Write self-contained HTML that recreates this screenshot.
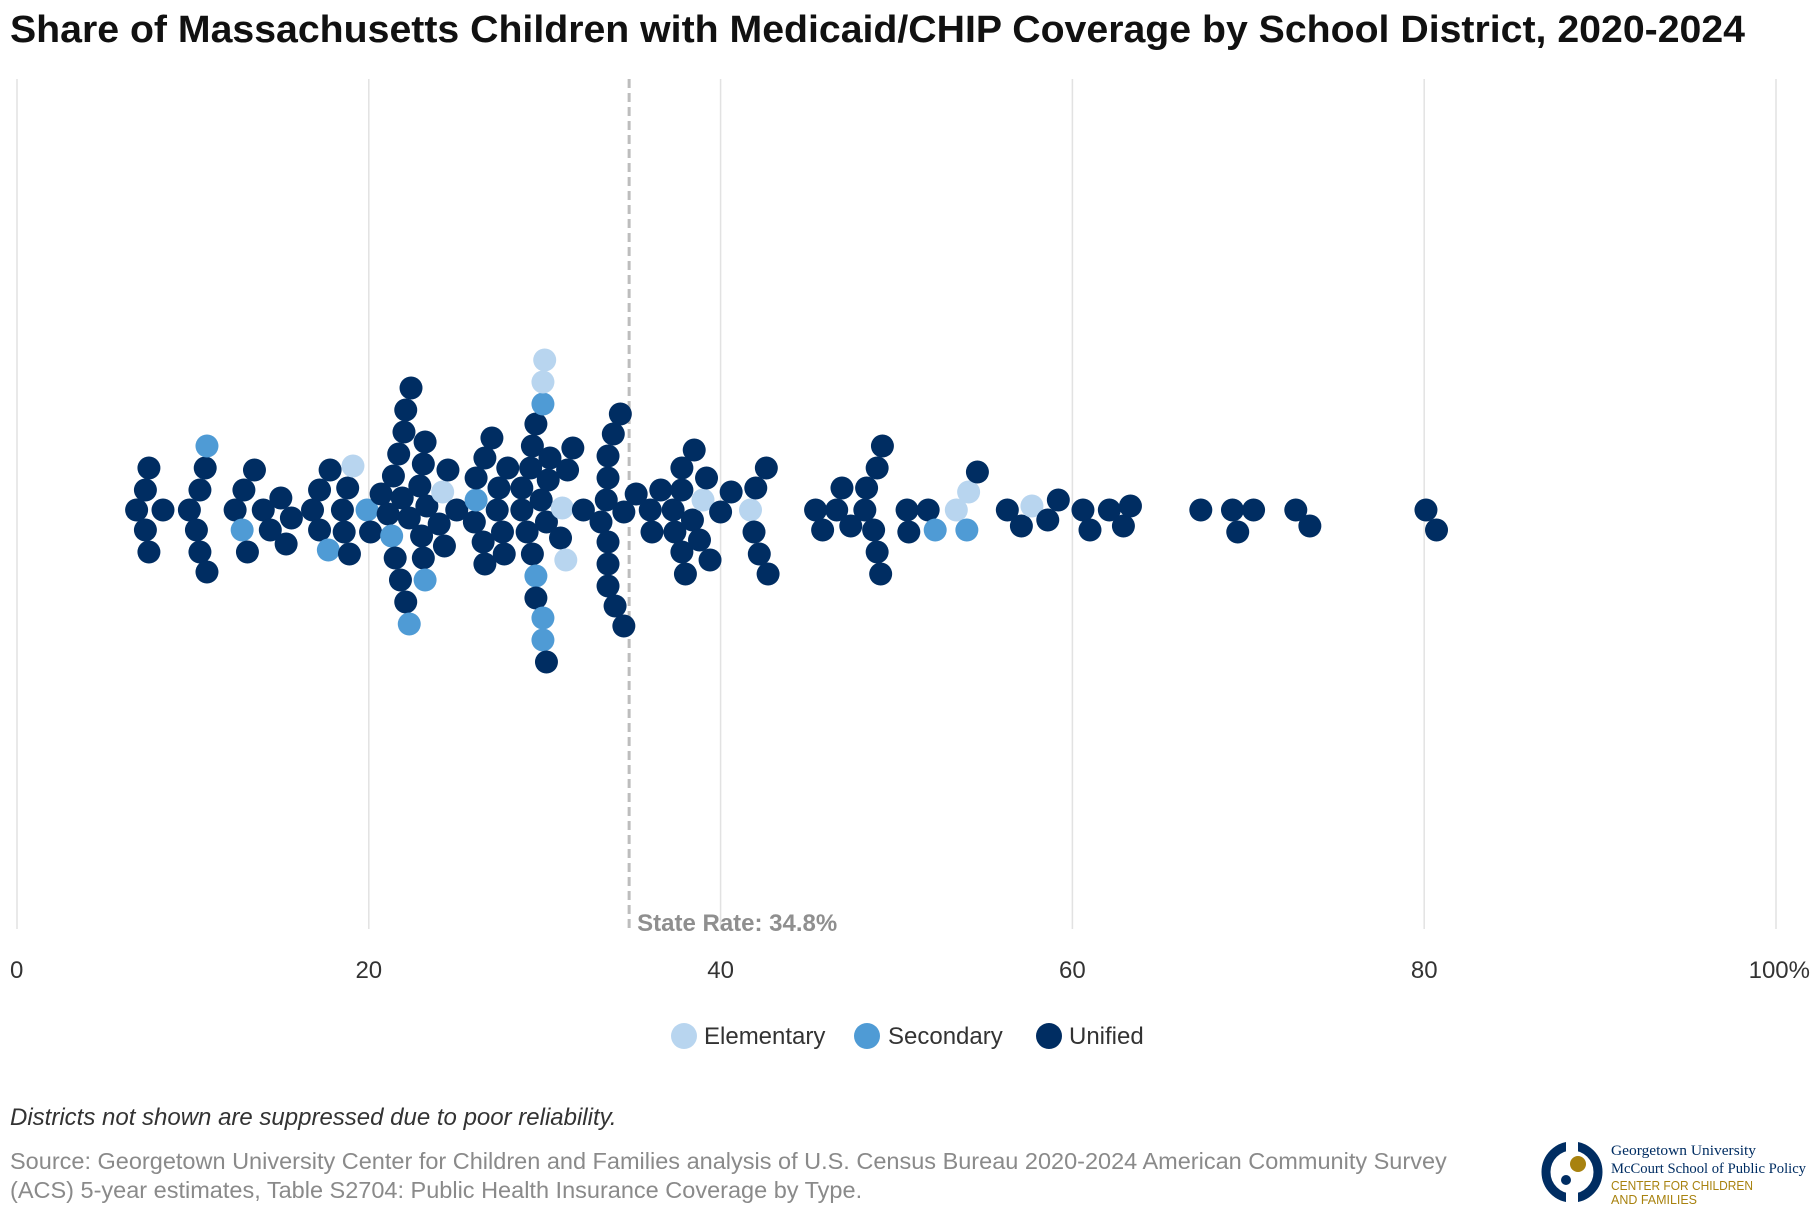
<!DOCTYPE html>
<html><head><meta charset="utf-8"><style>
body{margin:0;background:#fff;width:1820px;height:1220px;overflow:hidden;font-family:"Liberation Sans",sans-serif}
</style></head><body>
<svg width="1820" height="1220" xmlns="http://www.w3.org/2000/svg">
<text x="10" y="42" font-size="38" font-weight="bold" fill="#111" textLength="1735" lengthAdjust="spacingAndGlyphs">Share of Massachusetts Children with Medicaid/CHIP Coverage by School District, 2020-2024</text>
<g id="grid"></g>
<g id="dots"></g>
<g id="ticks"></g>
<g font-size="24" fill="#333">
<circle cx="684" cy="1036" r="13" fill="#b8d5ef"/>
<text x="704" y="1044">Elementary</text>
<circle cx="867" cy="1036" r="13" fill="#4f9bd5"/>
<text x="888" y="1044">Secondary</text>
<circle cx="1049" cy="1036" r="13" fill="#002d62"/>
<text x="1069" y="1044">Unified</text>
</g>
<text x="10" y="1125" font-size="24" font-style="italic" fill="#333">Districts not shown are suppressed due to poor reliability.</text>
<text x="10" y="1169" font-size="23.5" fill="#8a8a8a">Source: Georgetown University Center for Children and Families analysis of U.S. Census Bureau 2020-2024 American Community Survey</text>
<text x="10" y="1198" font-size="23.5" fill="#8a8a8a">(ACS) 5-year estimates, Table S2704: Public Health Insurance Coverage by Type.</text>
<g>
<circle cx="1572" cy="1172" r="26" fill="none" stroke="#002d62" stroke-width="9"/>
<rect x="1566" y="1140" width="12" height="64" fill="#fff"/>
<circle cx="1578" cy="1164" r="8" fill="#a8820f"/>
<circle cx="1566" cy="1180" r="5" fill="#002d62"/>
<text x="1611" y="1155" font-family="Liberation Serif,serif" font-size="15" fill="#002d62" textLength="145" lengthAdjust="spacingAndGlyphs">Georgetown University</text>
<text x="1611" y="1173" font-family="Liberation Serif,serif" font-size="15" fill="#002d62" textLength="195" lengthAdjust="spacingAndGlyphs">McCourt School of Public Policy</text>
<text x="1611" y="1190" font-size="13" fill="#a8820f" textLength="142" lengthAdjust="spacingAndGlyphs">CENTER FOR CHILDREN</text>
<text x="1611" y="1204" font-size="13" fill="#a8820f" textLength="86" lengthAdjust="spacingAndGlyphs">AND FAMILIES</text>
</g>
</svg>
<script>
const values=[6.8,7.3,7.3,7.5,7.5,8.3,9.8,10.2,10.4,10.4,10.7,10.8,10.8,12.4,12.8,12.9,13.1,13.5,14.0,14.4,15.0,15.3,15.6,16.8,17.2,17.2,17.7,17.8,18.5,18.6,18.8,18.9,19.1,19.9,
20.1,20.7,21.1,21.3,21.4,21.5,21.7,21.8,21.9,22.0,22.1,22.1,22.3,22.3,22.4,22.9,23.0,23.1,23.1,23.2,23.2,23.3,24.0,24.2,24.3,24.5,25.0,
26.0,26.1,26.1,26.5,26.6,26.6,27.0,27.3,27.4,27.6,27.7,27.9,28.7,28.7,29.0,29.2,29.3,29.3,29.5,29.5,29.5,29.8,29.9,29.9,29.9,29.9,30.0,30.1,30.1,30.2,30.3,30.9,31.0,31.2,31.3,31.6,32.2,
33.2,33.5,33.6,33.6,33.6,33.6,33.6,33.9,34.0,34.3,34.5,34.5,35.2,36.0,36.1,36.6,37.3,37.4,37.8,37.8,37.8,38.0,38.4,38.5,38.8,39.0,39.2,39.4,40.0,40.6,
41.7,41.9,42.0,42.2,42.6,42.7,45.4,45.8,46.6,46.9,47.4,48.2,48.3,48.7,48.9,48.9,49.1,49.2,50.6,50.7,51.8,52.2,53.4,54.0,54.1,54.6,
56.3,57.1,57.7,58.6,59.2,60.6,61.0,62.1,62.9,63.3,67.3,69.1,69.4,70.3,72.7,73.5,80.1,80.7];
const types=["U","U","U","U","U","U","U","U","U","U","U","U","S","U","S","U","U","U","U","U","U","U","U","U","U","U","S","U","U","U","U","U","E","S",
"U","U","U","S","U","U","U","U","U","U","U","U","U","S","U","U","U","U","U","U","S","U","U","E","U","U","U",
"U","S","U","U","U","U","U","U","U","U","U","U","U","U","U","U","U","U","S","U","U","U","S","S","E","S","E","U","U","U","U","U","E","E","U","U","U",
"U","U","U","U","U","U","U","U","U","U","U","U","U","U","U","U","U","U","U","U","U","U","U","U","U","E","U","U","U","U",
"E","U","U","U","U","U","U","U","U","U","U","U","U","U","U","U","U","U","U","U","U","S","E","S","E","U",
"U","U","E","U","U","U","U","U","U","U","U","U","U","U","U","U","U","U"];
const ticks=[0,20,40,60,80,100];
const tickLabels=["0","20","40","60","80","100%"];
const stateRate=34.8;
const NS="http://www.w3.org/2000/svg";
const x=v=>17+17.59*v, cy=510, R=11.5, D=21;
const colors={E:"#b8d5ef",S:"#4f9bd5",U:"#002d62"};
const grid=document.getElementById('grid'),tk=document.getElementById('ticks'),dots=document.getElementById('dots');
ticks.forEach((t,i)=>{
 const l=document.createElementNS(NS,'line');
 
 
 l.setAttribute('x1',x(t));l.setAttribute('x2',x(t));l.setAttribute('y1',79);l.setAttribute('y2',929);
 l.setAttribute('stroke','#e2e2e2');l.setAttribute('stroke-width','1.5');grid.appendChild(l);
 const tx=document.createElementNS(NS,'text');
 
 
 tx.setAttribute('x',x(t));tx.setAttribute('y',978);tx.setAttribute('font-size','24');tx.setAttribute('fill','#333');
 tx.setAttribute('text-anchor',i==0?'start':(i==ticks.length-1?'end':'middle'));
 if(i==0)tx.setAttribute('x',x(t)-7);
 if(i==ticks.length-1)tx.setAttribute('x',x(t)+34);
 tx.textContent=tickLabels[i];tk.appendChild(tx);
});
const sl=document.createElementNS(NS,'line');


sl.setAttribute('x1',x(stateRate));sl.setAttribute('x2',x(stateRate));sl.setAttribute('y1',79);sl.setAttribute('y2',929);
sl.setAttribute('stroke','#bdbdbd');sl.setAttribute('stroke-width','3');sl.setAttribute('stroke-dasharray','9,5');grid.appendChild(sl);
const st=document.createElementNS(NS,'text');


st.setAttribute('x',x(stateRate)+8);st.setAttribute('y',931);st.setAttribute('font-size','24');st.setAttribute('font-weight','bold');st.setAttribute('fill','#8f8f8f');
st.textContent='State Rate: '+stateRate+'%';grid.appendChild(st);
// greedy beeswarm
const placed=[];
values.map((v,i)=>i).sort((a,b)=>values[a]-values[b]).forEach(i=>{
 const px=x(values[i]);
 let best=0;
 for(let k=0;k<200;k++){
  const off=(k%2?1:-1)*Math.ceil(k/2)*2;
  const ok=placed.every(p=>{const dx=p[0]-px,dy=p[1]-off;return dx*dx+dy*dy>=D*D;});
  if(ok){best=off;break;}
 }
 placed.push([px,best,i]);
});
placed.forEach(p=>{
 const c=document.createElementNS(NS,'circle');
 
 
 c.setAttribute('cx',p[0]);c.setAttribute('cy',cy+p[1]);c.setAttribute('r',R);
 c.setAttribute('fill',colors[types[p[2]]]);dots.appendChild(c);
});
</script>
</body></html>
